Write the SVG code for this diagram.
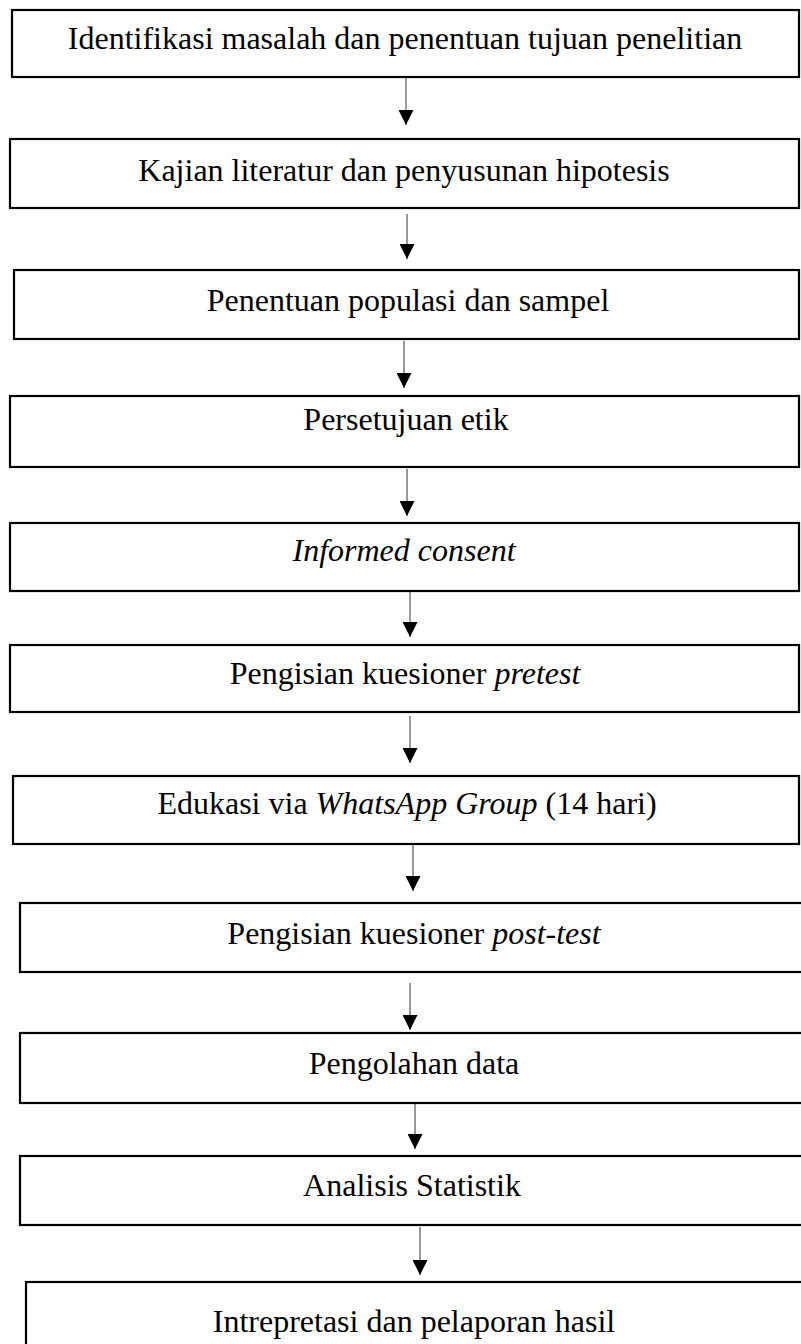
<svg xmlns="http://www.w3.org/2000/svg" width="801" height="1344" viewBox="0 0 801 1344">
<style>
.box{fill:#fff;stroke:#000;stroke-width:2.2}
.lbl{font-family:"Liberation Serif","Times New Roman",serif;font-size:32px;fill:#000;text-anchor:middle}
.it{font-style:italic}
.con{stroke:#555;stroke-width:1.2;fill:none}
</style>
<defs>
<marker id="ah" markerUnits="userSpaceOnUse" markerWidth="15" markerHeight="15" refX="15" refY="7.5" orient="auto" viewBox="0 0 15 15">
<path d="M0,0 L15,7.5 L0,15 Z" fill="#000"/>
</marker>
</defs>
<rect width="801" height="1344" fill="#fff"/>
<g id="connectors">
<line class="con" x1="406" y1="78" x2="406" y2="125" marker-end="url(#ah)"/>
<line class="con" x1="407" y1="214" x2="407" y2="259" marker-end="url(#ah)"/>
<line class="con" x1="404" y1="341" x2="404" y2="388" marker-end="url(#ah)"/>
<line class="con" x1="407" y1="469" x2="407" y2="516" marker-end="url(#ah)"/>
<line class="con" x1="410" y1="592" x2="410" y2="637" marker-end="url(#ah)"/>
<line class="con" x1="410" y1="716" x2="410" y2="763" marker-end="url(#ah)"/>
<line class="con" x1="413" y1="845" x2="413" y2="891" marker-end="url(#ah)"/>
<line class="con" x1="410" y1="983" x2="410" y2="1030" marker-end="url(#ah)"/>
<line class="con" x1="415" y1="1104" x2="415" y2="1149" marker-end="url(#ah)"/>
<line class="con" x1="420" y1="1227" x2="420" y2="1275" marker-end="url(#ah)"/>
</g>
<g id="n1"><rect class="box" x="12" y="10" width="787" height="67"/><text class="lbl" x="405" y="49">Identifikasi masalah dan penentuan tujuan penelitian</text></g>
<g id="n2"><rect class="box" x="10" y="139" width="789" height="69"/><text class="lbl" x="404" y="181">Kajian literatur dan penyusunan hipotesis</text></g>
<g id="n3"><rect class="box" x="14" y="270" width="785" height="69"/><text class="lbl" x="408" y="311">Penentuan populasi dan sampel</text></g>
<g id="n4"><rect class="box" x="10" y="396" width="789" height="71"/><text class="lbl" x="406" y="430">Persetujuan etik</text></g>
<g id="n5"><rect class="box" x="10" y="523" width="789" height="68"/><text class="lbl" x="404" y="561"><tspan class="it">Informed consent</tspan></text></g>
<g id="n6"><rect class="box" x="10" y="645" width="789" height="67"/><text class="lbl" x="405" y="684">Pengisian kuesioner <tspan class="it">pretest</tspan></text></g>
<g id="n7"><rect class="box" x="13" y="776" width="786" height="68"/><text class="lbl" x="407" y="814">Edukasi via <tspan class="it">WhatsApp Group</tspan> (14 hari)</text></g>
<g id="n8"><rect class="box" x="20" y="903" width="790" height="69"/><text class="lbl" x="414" y="944">Pengisian kuesioner <tspan class="it">post-test</tspan></text></g>
<g id="n9"><rect class="box" x="20" y="1033" width="790" height="70"/><text class="lbl" x="414" y="1074">Pengolahan data</text></g>
<g id="n10"><rect class="box" x="20" y="1156" width="790" height="69"/><text class="lbl" x="412" y="1196">Analisis Statistik</text></g>
<g id="n11"><rect class="box" x="26" y="1282" width="790" height="80"/><text class="lbl" x="414" y="1332">Intrepretasi dan pelaporan hasil</text></g>
</svg>
